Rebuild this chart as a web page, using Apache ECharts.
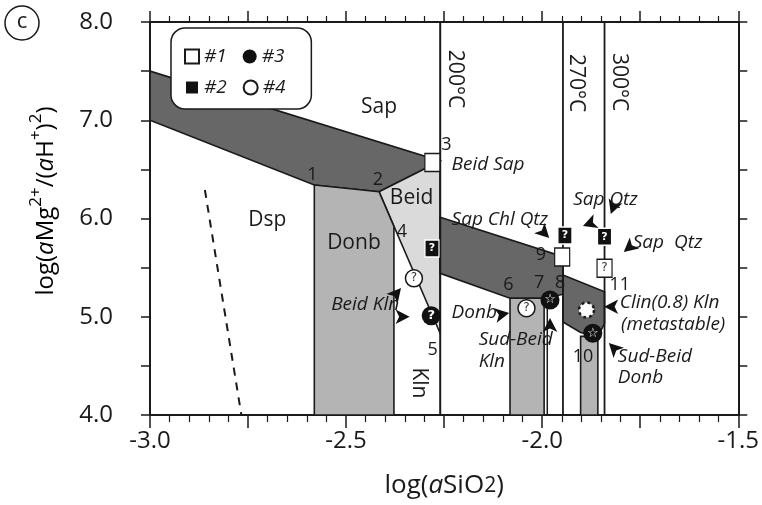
<!DOCTYPE html>
<html>
<head>
<meta charset="utf-8">
<script src="https://cdn.jsdelivr.net/npm/echarts@6/dist/echarts.min.js"></script>
<style>
  html, body { margin: 0; padding: 0; background: #fff; }
  #chart { width: 762px; height: 505px; }
</style>
</head>
<body>
<div id="chart"></div>
<script>
  var FONT = 'Open Sans';

  // axis ranges
  var xRange = [-3.0, -1.5];
  var yRange = [4.0, 8.0];

  // stability fields, vertices as [log aSiO2, log aMg/aH2]
  var sapBandUpper = [[-3.0, 7.5], [-2.26, 6.585], [-2.416, 6.273], [-2.581, 6.341], [-3.0, 7.0]];
  var beidField = [[-2.416, 6.273], [-2.26, 6.585], [-2.26, 4.83]];
  var donbField = [[-2.581, 6.341], [-2.416, 6.273], [-2.378, 5.92], [-2.378, 4.0], [-2.581, 4.0]];
  var sapBandMid = [[-2.26, 6.012], [-1.947, 5.612], [-1.947, 5.23], [-1.987, 5.19], [-2.082, 5.188], [-2.26, 5.442]];
  var sapBandRight = [[-1.947, 5.425], [-1.841, 5.255], [-1.841, 4.93], [-1.858, 4.80], [-1.902, 4.84], [-1.947, 4.947]];
  var donbField2 = [[-2.082, 5.188], [-1.995, 5.188], [-1.995, 4.0], [-2.082, 4.0]];
  var donbField3 = [[-1.902, 4.80], [-1.858, 4.80], [-1.858, 4.0], [-1.902, 4.0]];

  // isotherms and other boundaries
  var iso200 = [[-2.26, 4.0], [-2.26, 8.0]];
  var iso270 = [[-1.947, 4.0], [-1.947, 8.0]];
  var iso300 = [[-1.841, 4.0], [-1.841, 8.0]];
  var kln8 = [[-1.987, 4.0], [-1.987, 5.19]];
  var dspLimit = [[-2.860, 6.29], [-2.767, 4.0]];

  // samples: [x, y, inner glyph]
  var sample1 = [[-2.28, 6.57, ''], [-1.949, 5.608, ''], [-1.841, 5.493, '?']];
  var sample2 = [[-2.281, 5.695, '?'], [-1.942, 5.827, '?'], [-1.841, 5.815, '?']];
  var sample3 = [[-2.283, 5.011, '?'], [-1.980, 5.170, '☆'], [-1.871, 4.832, '☆']];
  var sample4 = [[-2.327, 5.391, '?'], [-2.040, 5.086, '?']];
  var metastable = [[-1.887, 5.069]];

  // arrowheads: [x, y, rotation deg]
  var arrows = [
    [-1.982, 5.802, -135], [-1.896, 5.924, 110], [-1.825, 6.046, 160], [-1.792, 5.659, 130],
    [-2.360, 5.293, -40], [-2.338, 5.000, -90], [-2.084, 5.038, -80], [-1.980, 4.987, 0],
    [-1.842, 5.102, 90], [-1.830, 4.733, 45]
  ];

  // annotations
  var fieldNames = [[-2.416, 7.135, 'Sap'], [-2.701, 5.985, 'Dsp'], [-2.333, 6.209, 'Beid'], [-2.480, 5.751, 'Donb']];
  var verticalNames = [[-2.315, 4.326, 'Kln'], [-2.223, 7.42, '200°C'], [-1.914, 7.379, '270°C'], [-1.805, 7.389, '300°C']];
  var pointNumbers = [
    [-2.586, 6.443, '1'], [-2.419, 6.392, '2'], [-2.244, 6.748, '3'], [-2.358, 5.863, '4'],
    [-2.279, 4.662, '5'], [-2.086, 5.323, '6'], [-2.008, 5.344, '7'], [-1.954, 5.344, '8'],
    [-2.003, 5.628, '9'], [-1.896, 4.590, '10'], [-1.802, 5.323, '11']
  ];
  var assemblages = [
    [-2.231, 6.545, 'Beid Sap'], [-2.231, 5.985, 'Sap Chl Qtz'], [-1.921, 6.188, 'Sap Qtz'],
    [-1.769, 5.751, 'Sap  Qtz'], [-2.538, 5.120, 'Beid Kln'], [-2.231, 5.038, 'Donb'],
    [-2.162, 4.763, 'Sud-Beid'], [-2.162, 4.539, 'Kln'], [-1.802, 5.140, 'Clin(0.8) Kln'],
    [-1.799, 4.916, '(metastable)'], [-1.807, 4.590, 'Sud-Beid'], [-1.807, 4.377, 'Donb']
  ];

  var fields = [
    { pts: sapBandUpper, fill: '#676767' },
    { pts: beidField, fill: '#dadada' },
    { pts: donbField, fill: '#b4b4b4' },
    { pts: sapBandMid, fill: '#676767' },
    { pts: sapBandRight, fill: '#676767' },
    { pts: donbField2, fill: '#b4b4b4' },
    { pts: donbField3, fill: '#b4b4b4' }
  ];

  var chart = echarts.init(document.getElementById('chart'), null, { renderer: 'canvas' });

  function textSeries(list, style, rotation) {
    return {
      type: 'custom',
      silent: true,
      z: 10,
      data: list.map(function (d) { return [d[0], d[1]]; }),
      renderItem: function (params, api) {
        var d = list[params.dataIndex];
        var p = api.coord([d[0], d[1]]);
        return {
          type: 'text', x: p[0], y: p[1], rotation: rotation || 0,
          style: Object.assign({ text: d[2], fill: '#1a1a1a', fontFamily: FONT, verticalAlign: 'middle' }, style)
        };
      }
    };
  }

  function lineSeries(data, dashed, width) {
    return {
      type: 'line', data: data, symbol: 'none', silent: true, z: 3,
      lineStyle: { color: '#1a1a1a', width: width || 1.8, type: dashed ? [8, 7] : 'solid' }
    };
  }

  function glyphLabel(color) {
    return {
      show: true, position: 'inside', color: color, fontFamily: 'DejaVu Sans', fontWeight: 'bold', fontSize: 11,
      formatter: function (p) { return p.data[2]; }
    };
  }

  var option = {
    animation: false,
    backgroundColor: '#fff',
    grid: { left: 150, right: 21, top: 22, bottom: 90 },
    legend: {
      data: ['#1', '#3', '#2', '#4'],
      left: 171, top: 28, width: 118,
      padding: [19, 22, 12, 13],
      itemGap: 12, itemWidth: 14, itemHeight: 14,
      backgroundColor: '#fff', borderColor: '#1a1a1a', borderWidth: 1.5, borderRadius: 14,
      selectedMode: false,
      textStyle: { fontFamily: FONT, fontStyle: 'italic', fontSize: 19, lineHeight: 14, color: '#1a1a1a', padding: [0, 4, 0, 0] }
    },
    xAxis: [{
      type: 'value', min: xRange[0], max: xRange[1], interval: 0.25,
      splitLine: { show: false },
      axisLine: { lineStyle: { color: '#1a1a1a', width: 2 } },
      axisTick: { length: 13, lineStyle: { color: '#1a1a1a', width: 1.5 } },
      minorTick: { show: true, splitNumber: 5, length: 7, lineStyle: { color: '#1a1a1a', width: 1.2 } },
      axisLabel: {
        margin: 14, color: '#1a1a1a', fontFamily: FONT, fontSize: 24,
        formatter: function (v) { return Math.abs(v * 2 - Math.round(v * 2)) < 1e-6 ? v.toFixed(1) : ''; }
      },
      name: '{n|log(}{i|a}{n|SiO}{t|2}{n|)}', nameLocation: 'middle', nameGap: 58,
      nameTextStyle: { rich: {
        n: { fontFamily: FONT, fontSize: 26, color: '#1a1a1a' },
        i: { fontFamily: FONT, fontSize: 26, fontStyle: 'italic', color: '#1a1a1a' },
        t: { fontFamily: FONT, fontSize: 21, color: '#1a1a1a' }
      } }
    }, {
      type: 'value', position: 'top', min: xRange[0], max: xRange[1], interval: 0.25,
      splitLine: { show: false },
      axisLine: { lineStyle: { color: '#1a1a1a', width: 2 } },
      axisTick: { length: 11, lineStyle: { color: '#1a1a1a', width: 1.5 } },
      minorTick: { show: true, splitNumber: 5, length: 6, lineStyle: { color: '#1a1a1a', width: 1.2 } },
      axisLabel: { show: false }
    }],
    yAxis: [{
      type: 'value', min: yRange[0], max: yRange[1], interval: 0.5,
      splitLine: { show: false },
      axisLine: { lineStyle: { color: '#1a1a1a', width: 2 } },
      axisTick: { length: 9, lineStyle: { color: '#1a1a1a', width: 1.5 } },
      axisLabel: {
        margin: 37, color: '#1a1a1a', fontFamily: FONT, fontSize: 24,
        formatter: function (v) { return Math.abs(v - Math.round(v)) < 1e-6 ? v.toFixed(1) : ''; }
      }
    }, {
      type: 'value', position: 'right', min: yRange[0], max: yRange[1], interval: 0.5,
      splitLine: { show: false },
      axisLine: { lineStyle: { color: '#1a1a1a', width: 2 } },
      axisTick: { length: 9, lineStyle: { color: '#1a1a1a', width: 1.5 } },
      axisLabel: { show: false }
    }],
    graphic: [
      { type: 'circle', shape: { cx: 22, cy: 23, r: 17 }, style: { fill: '#fff', stroke: '#1a1a1a', lineWidth: 1.5 } },
      { type: 'text', x: 22, y: 22, style: { text: 'c', fontFamily: FONT, fontSize: 22, fill: '#1a1a1a', align: 'center', verticalAlign: 'middle' } },
      {
        type: 'text', x: 41, y: 201, rotation: Math.PI / 2,
        style: {
          text: '{n|log(}{i|a}{n|Mg}{s|2+}{n|/(}{i|a}{n|H}{s|+}{n|)}{s|2}{n|)}',
          align: 'center', verticalAlign: 'middle',
          rich: {
            n: { fontFamily: FONT, fontSize: 24, color: '#1a1a1a', lineHeight: 34, verticalAlign: 'bottom' },
            i: { fontFamily: FONT, fontSize: 24, fontStyle: 'italic', color: '#1a1a1a', lineHeight: 34, verticalAlign: 'bottom' },
            s: { fontFamily: FONT, fontSize: 17, color: '#1a1a1a', lineHeight: 20, verticalAlign: 'top', padding: [4, 0, 0, 0] }
          }
        }
      }
    ],
    series: [
      {
        type: 'custom', silent: true, z: 2,
        data: fields.map(function (f) { return f.pts[0]; }),
        renderItem: function (params, api) {
          var f = fields[params.dataIndex];
          return {
            type: 'polygon',
            shape: { points: f.pts.map(function (p) { return api.coord(p); }) },
            style: { fill: f.fill, stroke: '#1a1a1a', lineWidth: 1.6 }
          };
        }
      },
      lineSeries(iso200, false, 2),
      lineSeries(iso270, false, 1.8),
      lineSeries(iso300, false, 1.8),
      lineSeries(kln8, false, 1.5),
      lineSeries(dspLimit, true, 2),
      {
        name: '#1', type: 'scatter', data: sample1, symbol: 'rect', symbolSize: [15, 18], z: 6,
        itemStyle: { color: '#fff', borderColor: '#1a1a1a', borderWidth: 1.3, opacity: 1 },
        label: Object.assign(glyphLabel('#333'), { fontWeight: 'normal', fontSize: 12 })
      },
      {
        name: '#2', type: 'scatter', data: sample2, symbol: 'rect', symbolSize: [14, 17], z: 6,
        itemStyle: { color: '#111', borderColor: '#fff', borderWidth: 1.3, opacity: 1 },
        label: glyphLabel('#fff')
      },
      {
        name: '#3', type: 'scatter', data: sample3, symbol: 'circle', symbolSize: 19, z: 6,
        itemStyle: { color: '#111', opacity: 1 },
        label: Object.assign(glyphLabel('#fff'), { fontSize: 13 })
      },
      {
        name: '#4', type: 'scatter', data: sample4, symbol: 'circle', symbolSize: 17, z: 6,
        itemStyle: { color: '#fff', borderColor: '#1a1a1a', borderWidth: 1.5, opacity: 1 },
        label: Object.assign(glyphLabel('#333'), { fontWeight: 'normal', fontSize: 12 })
      },
      {
        type: 'scatter', data: metastable, symbol: 'circle', symbolSize: 15, z: 6, silent: true,
        itemStyle: { color: '#fff', borderColor: '#1a1a1a', borderWidth: 2.5, borderType: [3, 3], opacity: 1 }
      },
      {
        type: 'scatter', data: arrows, symbol: 'arrow', symbolSize: [11, 14], z: 7, silent: true,
        symbolRotate: function (v) { return v[2]; },
        itemStyle: { color: '#111', opacity: 1 }
      },
      textSeries(fieldNames, { fontSize: 21, align: 'center' }),
      textSeries(verticalNames, { fontSize: 21, align: 'center' }, -Math.PI / 2),
      textSeries(pointNumbers, { fontSize: 18, align: 'center' }),
      textSeries(assemblages, { fontSize: 19, fontStyle: 'italic', align: 'left' })
    ]
  };

  chart.setOption(option);
  window.addEventListener('resize', chart.resize);
</script>
</body>
</html>
